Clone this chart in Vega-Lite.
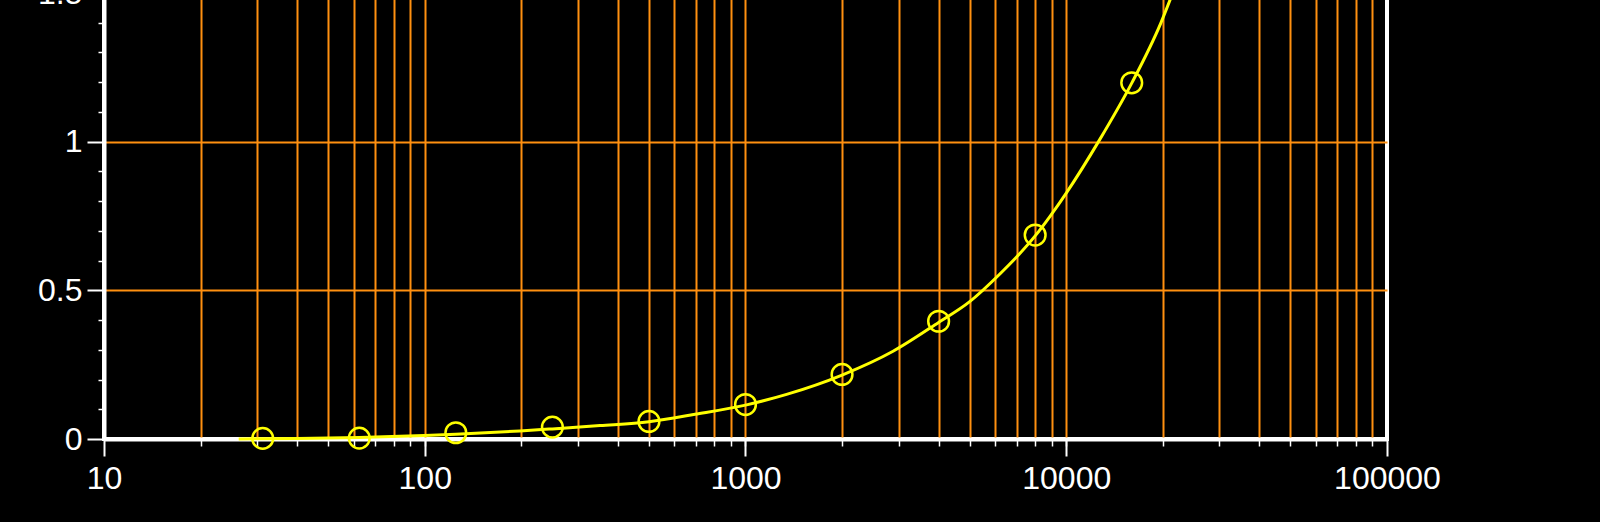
{
  "$schema": "https://vega.github.io/schema/vega-lite/v6.json",
  "width": 1283,
  "height": 446,
  "autosize": "none",
  "padding": {"left": 104, "top": -7, "right": 213, "bottom": 83},
  "background": "black",
  "config": {
    "view": {"stroke": "white", "strokeWidth": 4},
    "font": "Liberation Sans"
  },
  "datasets": {
    "points": [
      {"x": 31.25, "y": 0.002},
      {"x": 62.5, "y": 0.003},
      {"x": 125, "y": 0.021},
      {"x": 250, "y": 0.040},
      {"x": 500, "y": 0.059},
      {"x": 1000, "y": 0.116},
      {"x": 2000, "y": 0.217},
      {"x": 4000, "y": 0.396},
      {"x": 8000, "y": 0.686},
      {"x": 16000, "y": 1.198}
    ],
    "curve": [
      {"x": 26.3, "y": 0.0},
      {"x": 40, "y": 0.002},
      {"x": 62.5, "y": 0.005},
      {"x": 100, "y": 0.012},
      {"x": 125, "y": 0.016},
      {"x": 198, "y": 0.027},
      {"x": 250, "y": 0.034},
      {"x": 352, "y": 0.045},
      {"x": 500, "y": 0.058},
      {"x": 696, "y": 0.083},
      {"x": 1000, "y": 0.114},
      {"x": 1343, "y": 0.150},
      {"x": 2000, "y": 0.215},
      {"x": 2884, "y": 0.295},
      {"x": 4000, "y": 0.392},
      {"x": 5000, "y": 0.462},
      {"x": 6210, "y": 0.555},
      {"x": 7000, "y": 0.612},
      {"x": 8000, "y": 0.683},
      {"x": 8890, "y": 0.748},
      {"x": 10000, "y": 0.827},
      {"x": 12700, "y": 1.006},
      {"x": 16000, "y": 1.197},
      {"x": 19700, "y": 1.398},
      {"x": 21300, "y": 1.49}
    ]
  },
  "layer": [
    {
      "data": {"name": "curve"},
      "mark": {"type": "line", "color": "#ffff00", "strokeWidth": 3, "interpolate": "monotone"},
      "encoding": {
        "x": {
          "field": "x", "type": "quantitative",
          "scale": {"type": "log", "domain": [10, 100000], "nice": false},
          "axis": {
            "orient": "bottom", "title": null, "labels": false, "domain": false,
            "values": [20,30,40,50,60,70,80,90,100,200,300,400,500,600,700,800,900,1000,2000,3000,4000,5000,6000,7000,8000,9000,10000,20000,30000,40000,50000,60000,70000,80000,90000],
            "ticks": true, "tickSize": 7, "tickColor": "white", "tickWidth": 1.5,
            "grid": true, "gridColor": "#ff9010", "gridWidth": 2
          }
        },
        "y": {
          "field": "y", "type": "quantitative",
          "scale": {"domain": [0, 1.5], "nice": false, "zero": false},
          "axis": {
            "orient": "left", "title": null, "labels": false, "domain": false, "grid": false,
            "values": [0.1,0.2,0.3,0.4,0.6,0.7,0.8,0.9,1.1,1.2,1.3,1.4],
            "ticks": true, "tickSize": 6, "tickColor": "white", "tickWidth": 1.5
          }
        }
      }
    },
    {
      "data": {"name": "points"},
      "mark": {"type": "point", "shape": "circle", "filled": false, "color": "#ffff00", "size": 430, "strokeWidth": 2.5, "opacity": 1},
      "encoding": {
        "x": {
          "field": "x", "type": "quantitative",
          "scale": {"type": "log", "domain": [10, 100000], "nice": false},
          "axis": {
            "orient": "bottom", "title": null, "values": [10,100,1000,10000,100000],
            "format": "d", "grid": false,
            "domain": true, "domainColor": "white", "domainWidth": 4,
            "ticks": true, "tickSize": 17, "tickColor": "white", "tickWidth": 2,
            "labelFontSize": 32, "labelColor": "white", "labelFont": "Liberation Sans",
            "labelPadding": 7, "labelFlush": false, "labelOverlap": false
          }
        },
        "y": {
          "field": "y", "type": "quantitative",
          "scale": {"domain": [0, 1.5], "nice": false, "zero": false},
          "axis": {
            "orient": "left", "title": null, "values": [0, 0.5, 1, 1.5],
            "format": "~g",
            "grid": true, "gridColor": "#ff9010", "gridWidth": 2,
            "gridOpacity": {"condition": {"test": "datum.value == 0", "value": 0}, "value": 1},
            "domain": true, "domainColor": "white", "domainWidth": 4,
            "ticks": true, "tickSize": 17, "tickColor": "white", "tickWidth": 2,
            "labelFontSize": 32, "labelColor": "white", "labelFont": "Liberation Sans",
            "labelPadding": 5, "labelFlush": false, "labelOverlap": false
          }
        }
      }
    }
  ],
  "resolve": {"axis": {"x": "independent", "y": "independent"}}
}
